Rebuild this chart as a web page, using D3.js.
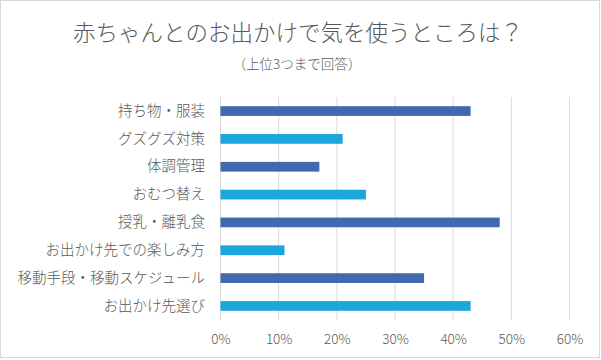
<!DOCTYPE html>
<html><head><meta charset="utf-8">
<script src="https://cdn.jsdelivr.net/npm/d3@7"></script>
<style>body{margin:0;background:#fff}svg{display:block}</style>
</head><body><div id="c"></div>
<script>
const categories = ["持ち物・服装","グズグズ対策","体調管理","おむつ替え","授乳・離乳食","お出かけ先での楽しみ方","移動手段・移動スケジュール","お出かけ先選び"];
const values = [43,21,17,25,48,11,35,43];
const barColors = ["#4269b0","#1ba6dc","#4269b0","#1ba6dc","#4269b0","#1ba6dc","#4269b0","#1ba6dc"];
const tickValues = [0,10,20,30,40,50,60];
const title = "赤ちゃんとのお出かけで気を使うところは？";
const subtitle = "（上位3つまで回答）";

const W=601,H=360;
const svg=d3.select("#c").append("svg").attr("width",W).attr("height",H);
const font="'Noto Sans CJK JP','Noto Sans',sans-serif";
svg.append("rect").attr("x",0.5).attr("y",0.5).attr("width",W-2).attr("height",H-3).attr("fill","#fff").attr("stroke","#d9d9d9");

const x=d3.scaleLinear().domain([0,60]).range([220.5,569.5]);
const y=d3.scaleBand().domain(categories).range([97,320]).paddingInner(0.65).paddingOuter(0.33);

svg.append("g").selectAll("line").data(tickValues).join("line")
 .attr("x1",d=>x(d)).attr("x2",d=>x(d)).attr("y1",97).attr("y2",320)
 .attr("stroke","#d9d9d9").attr("stroke-width",1);

svg.append("g").selectAll("rect").data(categories).join("rect")
 .attr("x",x(0)).attr("y",d=>y(d)).attr("height",y.bandwidth())
 .attr("width",(d,i)=>x(values[i])-x(0)).attr("fill",(d,i)=>barColors[i]);

const ax=d3.axisBottom(x).tickValues(tickValues).tickFormat(d=>d+"%").tickSize(0).tickPadding(0);
const gx=svg.append("g").attr("transform","translate(0,334)").call(ax);
gx.select(".domain").remove();
gx.selectAll("text").attr("font-family",font).attr("font-size",13.5).attr("fill","#595959").attr("font-weight",300).attr("dy","0.71em");

const ay=d3.axisLeft(y).tickSize(0).tickPadding(0);
const gy=svg.append("g").attr("transform","translate(205,0)").call(ay);
gy.select(".domain").remove();
gy.selectAll("text").attr("font-family",font).attr("font-size",14.5).attr("fill","#595959").attr("font-weight",300);

svg.append("text").attr("x",298).attr("y",33).attr("dy","0.35em").attr("text-anchor","middle")
 .attr("font-family",font).attr("font-size",22.5).attr("font-weight",300).attr("fill","#595959").text(title);
svg.append("text").attr("x",297).attr("y",64).attr("dy","0.35em").attr("text-anchor","middle")
 .attr("font-family",font).attr("font-size",13.5).attr("font-weight",300).attr("fill","#595959").text(subtitle);
</script></body></html>
